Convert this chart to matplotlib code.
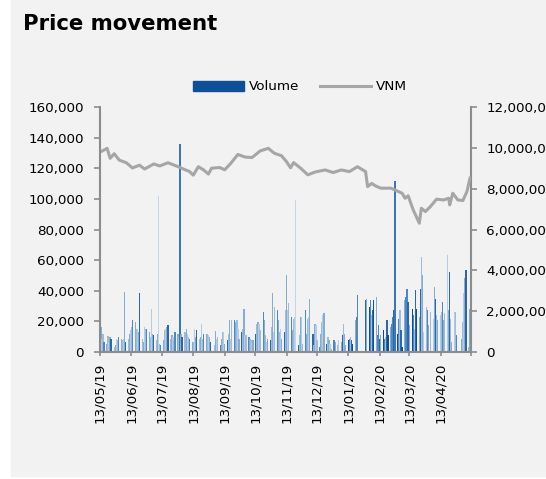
import numpy as np
import pandas as pd
import matplotlib
matplotlib.use("Agg")
import matplotlib.pyplot as plt
from matplotlib.patches import Rectangle, Patch
from matplotlib.lines import Line2D
from matplotlib.ticker import FuncFormatter, MultipleLocator

# trading days (HOSE), market holidays removed
holidays = ["2019-09-02", "2020-01-01", "2020-01-23", "2020-01-24", "2020-01-27",
            "2020-01-28", "2020-01-29", "2020-04-02", "2020-04-30", "2020-05-01"]
trade_days = pd.bdate_range("2019-05-13", "2020-05-12").drop(pd.to_datetime(holidays))

# daily volume, million shares (one row per month window 13th -> 12th)
volume_m = [
    1.64, 1.23, 0.66, 0.90, 0.49, 0.41, 0.79, 0.49, 0.74, 0.66, 0.25, 0.33, 0.66, 0.57, 0.74, 0.66, 0.57, 0.66, 2.95, 0.49, 0.66, 0.90, 1.07,
    1.23, 1.56, 1.48, 1.15, 1.15, 0.98, 2.87, 0.66, 0.49, 1.23, 1.15, 1.15, 0.98, 0.74, 2.10, 0.90, 0.82, 0.57, 0.90, 7.62, 0.41, 0.33,
    0.57, 1.07, 1.15, 1.23, 1.31, 0.66, 0.82, 0.74, 0.57, 0.98, 0.90, 0.74, 10.2, 0.90, 0.74, 0.98, 1.15, 0.90, 0.74, 0.66, 0.49,
    0.49, 1.15, 0.74, 1.07, 0.66, 0.74, 1.39, 0.66, 0.90, 0.90, 0.90, 0.82, 0.74, 0.49, 0.33, 1.02, 0.66, 0.74, 0.33, 0.66, 0.98, 0.98,
    0.41, 0.57, 0.90, 1.56, 0.66, 1.56, 1.56, 1.48, 1.56, 1.15, 0.66, 0.98, 1.15, 2.13, 0.82, 0.82, 0.74, 0.66, 0.57, 0.49, 0.57,
    0.90, 1.39, 1.48, 1.39, 1.07, 1.97, 1.56, 0.82, 0.49, 0.66, 0.57, 1.23, 2.87, 0.98, 2.21, 2.05, 1.56, 0.98, 1.15, 0.66, 0.98, 2.05,
    3.77, 2.05, 2.38, 1.72, 1.07, 1.64, 1.72, 7.46, 0.33, 0.82, 1.72, 1.72, 0.41, 2.05, 0.90, 1.64, 1.72, 2.62, 0.90, 0.33, 1.39, 1.31,
    0.57, 0.25, 0.90, 1.48, 1.80, 1.89, 0.41, 0.74, 0.57, 0.41, 0.16, 0.57, 0.49, 0.33, 0.57, 0.49, 0.82, 1.39, 0.90, 0.33,
    0.57, 0.66, 0.74, 0.57, 0.41, 1.56, 1.72, 2.79, 2.54, 2.62, 2.21, 2.54, 1.80, 2.05, 2.54, 2.70, 0.82, 1.31,
    0.66, 0.82, 1.07, 0.66, 0.74, 1.56, 0.82, 1.23, 1.39, 1.72, 2.05, 8.36, 0.90, 1.64, 2.05, 1.07, 0.25, 2.54, 2.70, 3.11, 2.46,
    1.31, 2.13, 1.80, 1.15, 3.03, 2.13, 1.72, 3.11, 4.67, 3.77, 0.98, 2.21, 2.05, 1.31, 1.97, 1.64, 3.20, 2.62, 1.80, 1.56,
    1.80, 1.97, 2.46, 1.56, 1.89, 4.75, 2.05, 3.93, 1.64, 0.49, 1.97, 1.97, 0.82, 0.66, 1.48, 2.87, 3.61, 4.02, 0.25, 2.13,
]

# VNM closing price (VND)
price_dates = [
    "2019-05-13", "2019-05-20", "2019-05-23", "2019-05-27", "2019-06-01", "2019-06-08",
    "2019-06-14", "2019-06-21", "2019-06-26", "2019-07-05", "2019-07-11", "2019-07-19",
    "2019-07-28", "2019-08-05", "2019-08-09", "2019-08-13", "2019-08-18", "2019-08-23",
    "2019-08-28", "2019-08-31", "2019-09-08", "2019-09-13", "2019-09-19", "2019-09-26",
    "2019-10-03", "2019-10-10", "2019-10-18", "2019-10-26", "2019-11-01", "2019-11-08",
    "2019-11-13", "2019-11-17", "2019-11-20", "2019-11-27", "2019-12-04", "2019-12-11",
    "2019-12-21", "2019-12-29", "2020-01-06", "2020-01-14", "2020-01-22", "2020-01-30",
    "2020-02-01", "2020-02-05", "2020-02-09", "2020-02-14", "2020-02-19", "2020-02-24",
    "2020-03-01", "2020-03-06", "2020-03-09", "2020-03-12", "2020-03-17", "2020-03-20",
    "2020-03-23", "2020-03-25", "2020-03-29", "2020-04-03", "2020-04-09", "2020-04-16",
    "2020-04-21", "2020-04-22", "2020-04-25", "2020-04-30", "2020-05-05", "2020-05-09",
    "2020-05-12",
]
price_vnd = [
    130500, 133000, 126500, 129500, 125300, 123600,
    120200, 122000, 119500, 122800, 121500, 123600,
    121300, 119000, 118000, 115500, 121000, 119000,
    116200, 120000, 120500, 119000, 123200, 129000,
    127300, 127000, 131300, 133000, 129800, 128200,
    124300, 120300, 123700, 120000, 115700, 117500,
    118900, 117200, 118900, 117800, 121000, 117800,
    108000, 110100, 108400, 107000, 107000, 107000,
    105200, 103700, 100400, 102000, 92800, 88500,
    84100, 93900, 91700, 95000, 99800, 99300,
    100400, 96100, 103700, 99300, 98900, 104800,
    113500,
]

month_ticks = pd.date_range("2019-05-13", periods=13, freq=pd.DateOffset(months=1))

shades = ["#9dbcdc", "#85acd3", "#b3cbe4", "#4f87c0", "#2a68a9", "#0e4f97"]
normal = [0, 1, 2, 0, 3, 1, 0, 2, 1, 4]
busy = [3, 4, 1, 5, 3, 0, 4, 5, 1, 3]

n = min(len(trade_days), len(volume_m))
days = trade_days[:n]
colors = []
for i, (d, v) in enumerate(zip(days, volume_m)):
    if v > 8:
        colors.append("#3a78b5")
    elif v > 7:
        colors.append("#c2d5e9")
    elif pd.Timestamp("2020-01-10") <= d <= pd.Timestamp("2020-03-20"):
        colors.append(shades[busy[i % len(busy)]])
    else:
        colors.append(shades[normal[i % len(normal)]])

W, H = 546, 479
fig = plt.figure(figsize=(W / 100, H / 100), dpi=100)
fig.patch.set_facecolor("white")
fig.add_artist(Rectangle((11 / W, 3 / H), 1 - 11 / W, 1 - 3 / H,
                         transform=fig.transFigure, color="#f2f2f2", zorder=0))

ax = fig.add_axes([100 / W, 1 - 352 / H, 371 / W, 245 / H])
ax2 = ax.twinx()

# thin daily bars, drawn without antialiasing so each one stays a solid pixel column
ax2.bar(days, np.array(volume_m[:n]) * 1e6, width=1.3, color=colors,
        linewidth=0, antialiased=False)
ax.plot(pd.to_datetime(price_dates), price_vnd, color="#a6a6a6", lw=2.2,
        solid_joinstyle="round")

ax.set_zorder(ax2.get_zorder() + 1)
ax.patch.set_visible(False)
ax2.patch.set_visible(False)

ax.set_xlim(pd.Timestamp("2019-05-13"), pd.Timestamp("2020-05-13"))
ax.set_ylim(0, 160000)
ax2.set_ylim(0, 12e6)
ax.yaxis.set_major_locator(MultipleLocator(20000))
ax2.yaxis.set_major_locator(MultipleLocator(2e6))
comma = FuncFormatter(lambda v, p: f"{v:,.0f}")
ax.yaxis.set_major_formatter(comma)
ax2.yaxis.set_major_formatter(comma)

ax.set_xticks(month_ticks)
ax.set_xticklabels([d.strftime("%d/%m/%y") for d in month_ticks[:-1]] + [""], rotation=90)

spine_c = "#8c8c8c"
for a in (ax, ax2):
    a.spines["top"].set_visible(False)
ax.spines["right"].set_visible(False)
ax2.spines["left"].set_visible(False)
ax2.spines["bottom"].set_visible(False)
ax.spines["left"].set_color(spine_c)
ax.spines["bottom"].set_color(spine_c)
ax2.spines["right"].set_color(spine_c)
for s in ("left", "bottom"):
    ax.spines[s].set_linewidth(1.5)
ax2.spines["right"].set_linewidth(1.5)

fs = 9.7
ax.tick_params(axis="y", direction="out", length=4, width=1.2, color=spine_c, labelsize=fs, pad=7.5)
ax.tick_params(axis="x", direction="out", length=3.2, width=1.2, color=spine_c, labelsize=fs, pad=4.5)
ax2.tick_params(axis="y", direction="out", length=4, width=1.2, color=spine_c, labelsize=fs, pad=7)

handles = [Patch(color="#0d5099", label="Volume"),
           Line2D([], [], color="#a6a6a6", lw=2.2, label="VNM")]
fig.legend(handles=handles, loc="center", bbox_to_anchor=(300 / W, 1 - 87 / H), ncol=2,
           frameon=False, fontsize=fs, handlelength=3.8, handletextpad=0.4,
           columnspacing=1.5)

fig.text(23 / W, 1 - 30 / H, "Price movement", fontsize=15.3, fontweight="bold", va="baseline")

fig.savefig("out.png", dpi=100)
